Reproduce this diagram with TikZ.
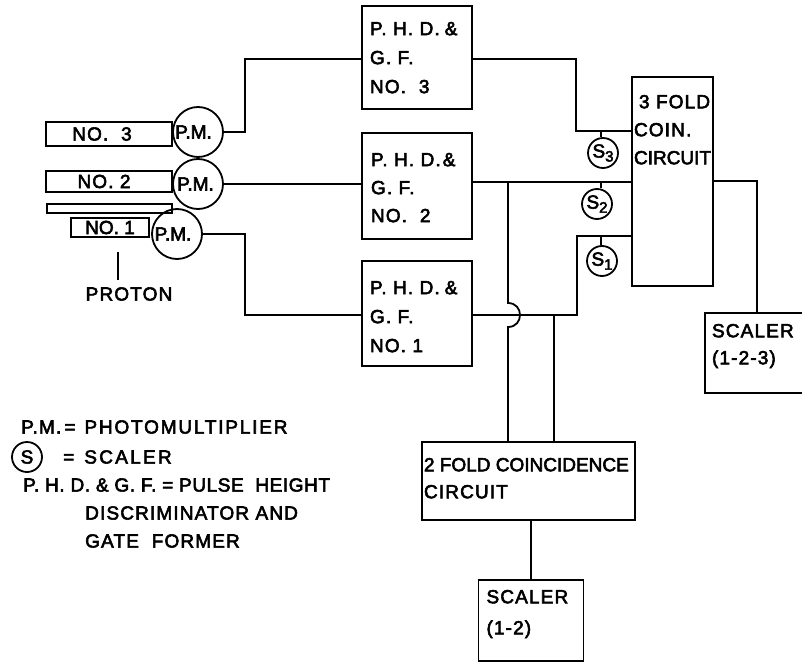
\documentclass[tikz,border=0pt]{standalone}
\usepackage{fontspec}
\setmainfont{Liberation Sans}[LetterSpace=6,FakeBold=3]
\newcommand{\labeltxt}{}
\newcommand{\blk}[5]{\parbox[c][#2pt][t]{#1pt}{\vspace*{#3pt}\setlength{\leftskip}{#4pt}\setlength{\parindent}{0pt}\setlength{\rightskip}{0pt plus 1fil}\setlength{\baselineskip}{#5pt}\labeltxt}}
\newcommand{\sub}[2]{#1\raisebox{-4pt}{\fontsize{15}{15}\selectfont #2}}
\newcommand{\tight}{\addfontfeature{LetterSpace=0}}
\begin{document}
\begin{tikzpicture}[x=1pt,y=-1pt,
  wire/.style={line width=1.8pt,line join=miter},
  thing/.style={draw,line width=1.8pt,inner sep=0pt,font=\fontsize{19}{21}\selectfont},
  tube/.style={thing,minimum height=22pt},
  ring/.style={thing,circle},
  lab/.style={inner sep=0pt,font=\fontsize{19}{21}\selectfont,anchor=west}]
\useasboundingbox (0,0) rectangle (802,663);
% tubes
\node[tube,minimum width=126pt,minimum height=24pt] (t3) at (109,134) {\hspace*{-14pt}NO. \ 3};
\node[tube,minimum width=126pt,minimum height=21pt] (t2) at (109,181.5) {\hspace*{-10pt}NO. 2};
\node[tube,minimum width=125pt,minimum height=9pt] (tb) at (109.5,208.5) {};
\node[tube,minimum width=78pt,minimum height=19pt] (t1) at (110,227.5) {\tight NO. 1};
% photomultipliers
\node[ring,minimum size=50pt] (pm3) at (198,132) {\hspace*{-9pt}\tight P.M.};
\node[ring,minimum size=50pt] (pm2) at (198,184) {\hspace*{-5pt}\tight P.M.};
\node[ring,minimum size=50pt] (pm1) at (177,234) {\hspace*{-8pt}\tight P.M.};
% proton
\coordinate (pa) at (118,252);
\coordinate (pb) at (118,280);
\draw[wire] (pa) -- (pb);
\node[lab,anchor=center] (proton) at (129,294) {PROTON};
% PHD boxes
\renewcommand{\labeltxt}{P. H. D.\hspace{5pt}\&\\G. F.\\NO. \ 3}
\node[thing] (b3) at (417,57.5) {\blk{110}{103}{16}{8}{29}};
\renewcommand{\labeltxt}{P. H. D.\hspace{2pt}\&\\G. F.\\NO. \ 2}
\node[thing] (b2) at (417,186) {\blk{110}{106}{20}{9}{28}};
\renewcommand{\labeltxt}{P. H. D.\hspace{5pt}\&\\G. F.\\NO. 1}
\node[thing] (b1) at (417,313.5) {\blk{110}{105}{20}{8}{29}};
% coincidence
\renewcommand{\labeltxt}{\hspace*{5pt}3 FOLD\\COIN.\\\mbox{\tight CIRCUIT}}
\node[thing] (coin) at (672.5,181.5) {\blk{81}{209}{18}{2}{28}};
\renewcommand{\labeltxt}{\mbox{\tight 2 FOLD COINCIDENCE}\\CIRCUIT}
\node[thing] (two) at (528.5,481) {\blk{213}{78}{16}{2}{27}};
\renewcommand{\labeltxt}{SCALER\\(1-2-3)}
\node[thing] (sc3) at (755,353) {\blk{100}{80}{11}{7}{27}};
\renewcommand{\labeltxt}{SCALER\\(1-2)}
\node[thing] (sc2) at (531,620.5) {\blk{105}{81}{10}{8}{31}};
% scaler circles
\node[ring,minimum size=30pt] (s3) at (603,153) {\sub{S}{3}};
\node[ring,minimum size=30pt] (s2) at (597,204) {\sub{S}{2}};
\node[ring,minimum size=30pt] (s1) at (602,261) {\sub{S}{1}};
% bends
\coordinate (c3) at (245,59);
\coordinate (c1) at (245,315);
\coordinate (d3) at (576,59);
\coordinate (e3) at (576,131);
\coordinate (y2) at (508,182);
\coordinate (e1) at (577,236);
\coordinate (d1) at (577,315);
\coordinate (h1) at (508,303);
\coordinate (h2) at (508,327);
\coordinate (k) at (554,315);
\coordinate (out) at (757,181);
\coordinate (t3a) at (601,131);
\coordinate (t2a) at (601,182);
\coordinate (t1a) at (601,236);
% wires
\draw[wire] (pm3.east) -| (c3) -- (c3 -| b3.west);
\draw[wire] (pm2.east) -- (pm2.east -| b2.west);
\draw[wire] (pm1.east) -| (c1) -- (c1 -| b1.west);
\draw[wire] (b3.east |- c3) -- (d3) -- (e3) -- (e3 -| coin.west);
\draw[wire] (b2.east |- y2) -- (y2 -| coin.west);
\draw[wire] (b1.east |- d1) -- (d1) -- (e1) -- (e1 -| coin.west);
\draw[wire] (y2) -- (h1) .. controls (524,303) and (524,327) .. (h2) -- (h2 |- two.north);
\draw[wire] (k) -- (k |- two.north);
\draw[wire] (coin.east |- out) -- (out) -- (out |- sc3.north);
\draw[wire] (two.south -| sc2.north) -- (sc2.north);
\draw[wire] (s3.north -| t3a) -- (t3a);
\draw[wire] (s2.north -| t2a) -- (t2a);
\draw[wire] (s1.north -| t1a) -- (t1a);
% legend
\node[lab] (l1) at (21,427) {P.M.\,=\hspace{9pt}\addfontfeature{LetterSpace=9.5}PHOTOMULTIPLIER};
\node[ring,minimum size=30pt] (ls) at (27,457) {S};
\node[lab] (l2) at (63,457) {=\hspace{10pt}\addfontfeature{LetterSpace=12}SCALER};
\node[lab] (l3) at (23,485) {\addfontfeature{LetterSpace=3}P. H. D. \& G. F. = PULSE \ HEIGHT};
\node[lab] (l4) at (85,513) {DISCRIMINATOR AND};
\node[lab] (l5) at (85,541) {GATE \ FORMER};
\end{tikzpicture}
\end{document}
